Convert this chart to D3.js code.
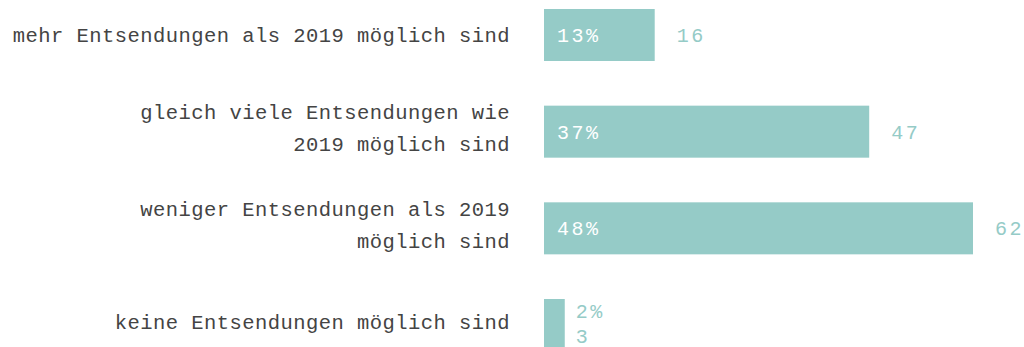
<!DOCTYPE html>
<html>
<head>
<meta charset="utf-8">
<script src="https://cdn.jsdelivr.net/npm/d3@7"></script>
<style>
  html, body { margin: 0; padding: 0; background: #fff; }
  svg { display: block; }
</style>
</head>
<body>
<svg id="chart" width="1024" height="347"></svg>
<script>
// Answer categories (label lines), shares and absolute counts
const categories = [
  ["mehr Entsendungen als 2019 möglich sind"],
  ["gleich viele Entsendungen wie", "2019 möglich sind"],
  ["weniger Entsendungen als 2019", "möglich sind"],
  ["keine Entsendungen möglich sind"]
];
const percents = [13, 37, 48, 2];
const counts = [16, 47, 62, 3];

const W = 1024, H = 347;
const barColor = "#95cbc7";
const textColor = "#444";
const font = "'Liberation Mono', 'DejaVu Sans Mono', monospace";

const svg = d3.select("#chart");

const rows = categories.map((c, i) => ({ lines: c, pct: percents[i], n: counts[i], i }));

const x = d3.scaleLinear().domain([0, 62]).range([544, 973]);
const y = d3.scaleBand().domain(d3.range(rows.length)).range([9, 351])
  .paddingInner(0.462).paddingOuter(0);

const g = svg.selectAll("g.row").data(rows).join("g").attr("class", "row");

// bars
g.append("rect")
  .attr("x", x(0))
  .attr("y", d => y(d.i))
  .attr("width", d => x(d.n) - x(0))
  .attr("height", y.bandwidth())
  .attr("fill", barColor);

// category labels, right-aligned left of the bars
const lineH = 32;
g.append("text")
  .attr("text-anchor", "end")
  .attr("font-family", font)
  .attr("font-size", 20.5)
  .attr("letter-spacing", 0.45)
  .attr("fill", textColor)
  .each(function (d) {
    const t = d3.select(this);
    const cy = y(d.i) + y.bandwidth() / 2 - (d.lines.length > 1 ? 3.5 : 0) - (d.i === rows.length - 1 ? 3 : 0);
    const off = -(d.lines.length - 1) * lineH / 2;
    d.lines.forEach((ln, k) => {
      t.append("tspan")
        .attr("x", 510)
        .attr("y", cy + off + k * lineH + 7)
        .text(ln);
    });
  });

// labels next to the bars: share inside the bar, count after it
const minInside = 60;
const numText = (sel, px, py, fill, txt) => sel.append("text")
  .attr("x", px)
  .attr("y", py)
  .attr("font-family", font)
  .attr("font-size", 20)
  .attr("letter-spacing", 2.5)
  .attr("fill", fill)
  .text(txt);

g.each(function (d) {
  const row = d3.select(this);
  const w = x(d.n) - x(0);
  const cy = y(d.i) + y.bandwidth() / 2;
  if (w >= minInside) {
    numText(row, x(0) + 13, cy + 7, "#fff", d.pct + "%");
    numText(row, x(d.n) + 22, cy + 7, barColor, d.n);
  } else {
    // narrow bar: share and count stacked to its right
    numText(row, x(d.n) + 11, y(d.i) + 19, barColor, d.pct + "%");
    numText(row, x(d.n) + 11, y(d.i) + 44, barColor, d.n);
  }
});
</script>
</body>
</html>
